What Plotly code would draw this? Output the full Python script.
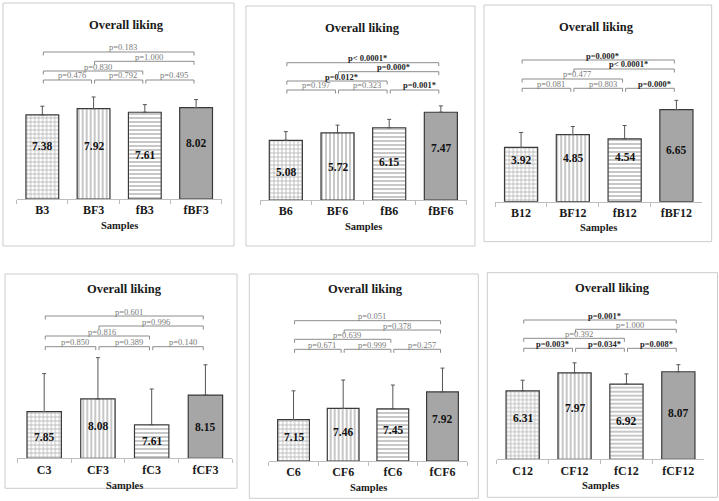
import plotly.graph_objects as go

W, H = 719, 501

# ---------------- data ----------------
cats_B3 = ["B3", "BF3", "fB3", "fBF3"]
vals_B3 = [7.38, 7.92, 7.61, 8.02]
err_B3 = [0.76, 1.03, 0.67, 0.70]
p_B3 = ["p=0.476", "p=0.792", "p=0.495", "p=0.830", "p=1.000", "p=0.183"]

cats_B6 = ["B6", "BF6", "fB6", "fBF6"]
vals_B6 = [5.08, 5.72, 6.15, 7.47]
err_B6 = [0.74, 0.65, 0.71, 0.54]
p_B6 = ["p=0.197", "p=0.323", "p=0.001*", "p=0.012*", "p=0.000*", "p< 0.0001*"]

cats_B12 = ["B12", "BF12", "fB12", "fBF12"]
vals_B12 = [3.92, 4.85, 4.54, 6.65]
err_B12 = [1.08, 0.58, 0.96, 0.67]
p_B12 = ["p=0.081", "p=0.803", "p=0.000*", "p=0.477", "p< 0.0001*", "p=0.000*"]

cats_C3 = ["C3", "CF3", "fC3", "fCF3"]
vals_C3 = [7.85, 8.08, 7.61, 8.15]
err_C3 = [0.69, 0.75, 0.65, 0.55]
p_C3 = ["p=0.850", "p=0.389", "p=0.140", "p=0.816", "p=0.996", "p=0.601"]

cats_C6 = ["C6", "CF6", "fC6", "fCF6"]
vals_C6 = [7.15, 7.46, 7.45, 7.92]
err_C6 = [0.80, 0.79, 0.66, 0.66]
p_C6 = ["p=0.671", "p=0.999", "p=0.257", "p=0.639", "p=0.378", "p=0.051"]

cats_C12 = ["C12", "CF12", "fC12", "fCF12"]
vals_C12 = [6.31, 7.97, 6.92, 8.07]
err_C12 = [0.98, 0.92, 0.95, 0.65]
p_C12 = ["p=0.003*", "p=0.034*", "p=0.008*", "p=0.392", "p=1.000", "p=0.001*"]

# comparison pairs (same order as p-value lists)
pairs = [(0, 1), (1, 2), (2, 3), (0, 2), (1, 3), (0, 3)]
pair_level = [0, 0, 0, 1, 2, 3]

title_text = "Overall liking"
xlabel_text = "Samples"

# ---------------- layout geometry (pixels) ----------------
panels = [
    dict(cats=cats_B3, vals=vals_B3, err=err_B3, p=p_B3, x0=16.7, x1=221.7, base=199, ppu=11.4, ymin=0,
         box=(3, 3, 234, 246), title=(126.7, 25), samples_y=225, levels=[119, 128, 137.7, 147],
         lab_y=[146, 146, 155, 143.3]),
    dict(cats=cats_B6, vals=vals_B6, err=err_B6, p=p_B6, x0=260, x1=466.7, base=200, ppu=11.75, ymin=0,
         box=(246, 6, 475, 246), title=(362.3, 27.7), samples_y=226.7, levels=[110, 119, 128.3, 137.3],
         lab_y=[172.3, 167.3, 161.7, 148.3]),
    dict(cats=cats_B12, vals=vals_B12, err=err_B12, p=p_B12, x0=495.2, x1=702.3, base=201.7, ppu=13.85, ymin=0,
         box=(484, 5, 711.7, 241.7), title=(596.3, 26.7), samples_y=227.7, levels=[113.4, 122.7, 132.7, 141.7],
         lab_y=[160, 158.3, 156.7, 150]),
    dict(cats=cats_C3, vals=vals_C3, err=err_C3, p=p_C3, x0=17.3, x1=232.3, base=458.3, ppu=55, ymin=7,
         box=(5, 274, 237, 488.3), title=(124.7, 289.3), samples_y=485, levels=[111.6, 122.3, 132.3, 142.3],
         lab_y=[436.7, 425.7, 441, 427.3]),
    dict(cats=cats_C6, vals=vals_C6, err=err_C6, p=p_C6, x0=268.7, x1=467.3, base=461, ppu=36, ymin=6,
         box=(249.3, 274, 478.3, 498.3), title=(365.3, 289.3), samples_y=487.7, levels=[111.7, 121.7, 131, 140.3],
         lab_y=[437.3, 431.7, 430, 419.3]),
    dict(cats=cats_C12, vals=vals_C12, err=err_C12, p=p_C12, x0=496.7, x1=704.3, base=459.3, ppu=10.85, ymin=0,
         box=(487.3, 272.7, 717.5, 497.3), title=(612.5, 288.3), samples_y=485, levels=[111, 121, 130, 139.3],
         lab_y=[418.3, 407.7, 420.7, 413.3]),
]

SERIF = "Liberation Serif"
patterns = ["+", "|", "-", ""]
fills = ["white", "white", "white", "#a6a6a6"]
pat_fg = ["#a8a8a8", "#6a6a6a", "#6a6a6a", "#a6a6a6"]


def PX(x):
    return x / W


def PY(y):
    return 1 - y / H


fig = go.Figure()
shapes = []
annotations = []

for k, pnl in enumerate(panels):
    n = "" if k == 0 else str(k + 1)
    xa, ya = "x" + n, "y" + n
    top_px = pnl["box"][1] + 1
    ymax = pnl["ymin"] + (pnl["base"] - top_px) / pnl["ppu"]

    fig.add_trace(go.Bar(
        x=pnl["cats"], y=[v - pnl["ymin"] for v in pnl["vals"]], base=pnl["ymin"],
        width=0.64, xaxis=xa, yaxis=ya, showlegend=False,
        marker=dict(color=fills, line=dict(color="#3a3a3a", width=1.2),
                    pattern=dict(shape=patterns, fgcolor=pat_fg, bgcolor=fills,
                                 size=4, solidity=0.3, fillmode="overlay")),
        error_y=dict(type="data", symmetric=False, array=pnl["err"], arrayminus=[0] * 4,
                     color="#555555", thickness=1, width=2),
        hoverinfo="skip",
    ))

    fig.update_layout(**{
        "xaxis" + n: dict(domain=[PX(pnl["x0"]), PX(pnl["x1"])], anchor=ya, range=[-0.5, 3.5],
                          showline=True, linecolor="#bdbdbd", linewidth=1, ticks="outside",
                          tickson="boundaries", ticklen=4, tickcolor="#bdbdbd", showgrid=False,
                          tickfont=dict(family=SERIF, size=12, color="#1a1a1a", weight="bold"),
                          fixedrange=True),
        "yaxis" + n: dict(domain=[PY(pnl["base"]), PY(top_px)], anchor=xa,
                          range=[pnl["ymin"], ymax], visible=False, showgrid=False, fixedrange=True),
    })

    # panel box
    bx0, by0, bx1, by1 = pnl["box"]
    shapes.append(dict(type="rect", xref="paper", yref="paper", x0=PX(bx0), x1=PX(bx1),
                       y0=PY(by1), y1=PY(by0), line=dict(color="#cccccc", width=1)))

    # title and x label
    annotations.append(dict(xref="paper", yref="paper", x=PX(pnl["title"][0]), y=PY(pnl["title"][1]),
                            text="<b>" + title_text + "</b>", showarrow=False, xanchor="center",
                            yanchor="middle", font=dict(family=SERIF, size=12.5, color="#1a1a1a")))
    annotations.append(dict(xref="paper", yref="paper", x=PX((pnl["x0"] + pnl["x1"]) / 2),
                            y=PY(pnl["samples_y"]), text="<b>" + xlabel_text + "</b>", showarrow=False,
                            xanchor="center", yanchor="middle",
                            font=dict(family=SERIF, size=10.5, color="#1a1a1a")))

    # value labels inside bars
    for i, v in enumerate(pnl["vals"]):
        annotations.append(dict(xref=xa, yref="paper", x=i, y=PY(pnl["lab_y"][i]),
                                text="<b>%.2f</b>" % v, showarrow=False, xanchor="center",
                                yanchor="middle", font=dict(family=SERIF, size=11.5, color="#111111")))

    # significance brackets
    for (i, j), lvl, txt in zip(pairs, pair_level, pnl["p"]):
        yl = pnl["base"] - pnl["levels"][lvl]
        ya_p, yt_p = PY(yl), PY(yl + 3.5)
        xs, xe = i + 0.02, j - 0.04
        shapes.append(dict(type="path", xref=xa, yref="paper",
                           path="M %f,%f L %f,%f L %f,%f L %f,%f" % (xs, yt_p, xs, ya_p, xe, ya_p, xe, yt_p),
                           line=dict(color="#8c8c8c", width=1)))
        sig = txt.endswith("*")
        annotations.append(dict(xref=xa, yref="paper", x=(i + j) / 2, y=PY(yl - 4.5), xshift=4,
                                text=("<b>%s</b>" % txt) if sig else txt, showarrow=False,
                                xanchor="center", yanchor="middle",
                                font=dict(family=SERIF, size=8.5,
                                          color="#262626" if sig else "#7a7a7a")))

fig.update_layout(width=W, height=H, margin=dict(l=0, r=0, t=0, b=0),
                  paper_bgcolor="white", plot_bgcolor="rgba(0,0,0,0)",
                  shapes=shapes, annotations=annotations, bargap=0.36)

fig.write_html("out.html", config={"displayModeBar": False},
               post_script="document.body.style.margin='0px';document.body.style.padding='0px';")
